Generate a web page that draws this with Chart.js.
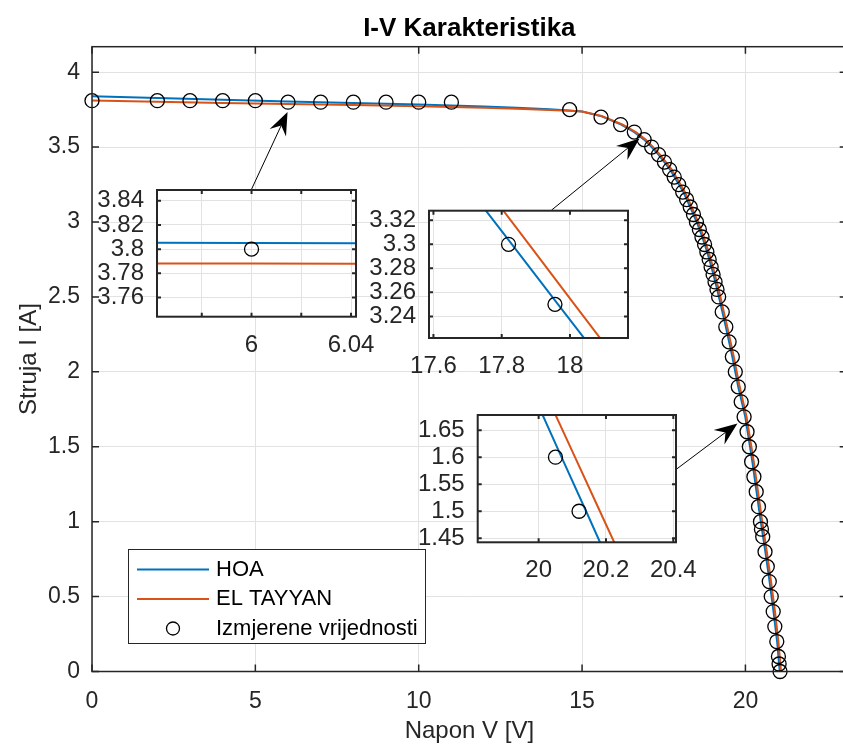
<!DOCTYPE html>
<html lang="bs">
<head>
<meta charset="UTF-8">
<title>I-V Karakteristika</title>
<script src="https://cdn.jsdelivr.net/npm/chart.js@4.4.1/dist/chart.umd.min.js"></script>
<style>
    html, body { margin: 0; padding: 0; background: #fff; overflow: hidden; }
    #grafica-wrap { position: relative; width: 843px; height: 744px; overflow: hidden; }
    #grafica-wrap canvas { position: absolute; }
</style>
</head>
<body>
<div id="grafica-wrap">
    <canvas id="iv-grafica" width="855" height="744" style="left:0;top:0"></canvas>
    <canvas id="uvecanje-1"></canvas>
    <canvas id="uvecanje-2"></canvas>
    <canvas id="uvecanje-3"></canvas>
</div>
<script>
// Izmjerene vrijednosti (V, I)
const naponMjerenja = [
    0, 2, 3, 4, 5, 6, 7, 8, 9, 10, 11,
    14.62, 15.58, 16.18, 16.60, 16.90, 17.13, 17.34, 17.52, 17.68, 17.82,
    17.956, 18.08, 18.20, 18.31, 18.41, 18.50, 18.59, 18.67, 18.75, 18.82,
    18.89, 18.95, 19.01, 19.07, 19.13, 19.18,
    19.29, 19.40, 19.50, 19.60, 19.69, 19.78, 19.87, 19.96, 20.05, 20.12,
    20.19, 20.26, 20.33, 20.40, 20.46, 20.49, 20.53,
    20.60, 20.67, 20.73, 20.79, 20.85, 20.90, 20.96, 21.01, 21.03, 21.06
];
const strujaMjerenja = [
    3.81, 3.81, 3.81, 3.81, 3.81, 3.80, 3.80, 3.80, 3.80, 3.80, 3.80,
    3.75, 3.70, 3.65, 3.60, 3.55, 3.50, 3.45, 3.40, 3.35, 3.30,
    3.25, 3.20, 3.15, 3.10, 3.05, 3.00, 2.95, 2.90, 2.85, 2.80,
    2.75, 2.70, 2.65, 2.60, 2.55, 2.50,
    2.40, 2.30, 2.20, 2.10, 2.00, 1.90, 1.80, 1.70, 1.60, 1.50,
    1.40, 1.30, 1.20, 1.10, 1.00, 0.95, 0.90,
    0.80, 0.70, 0.60, 0.50, 0.40, 0.30, 0.20, 0.10, 0.05, 0.00
];

// Model HOA
const naponHOA = [
    0, 2, 4, 6, 8, 10, 11, 12, 13, 14, 14.6, 15, 15.6,
    16.2, 16.6, 16.9, 17.13, 17.34, 17.52, 17.694, 17.83, 17.965, 18.101,
    18.31, 18.51, 18.68, 18.83, 18.96, 19.08, 19.19, 19.40, 19.60, 19.78,
    19.996, 20.068, 20.141, 20.213, 20.34, 20.47, 20.61, 20.74, 20.86, 20.97, 21.05
];
const strujaHOA = [
    3.840, 3.828, 3.816, 3.805, 3.795, 3.784, 3.778, 3.771, 3.763, 3.752, 3.745, 3.737, 3.705,
    3.65, 3.60, 3.55, 3.50, 3.45, 3.40, 3.35, 3.30, 3.25, 3.20,
    3.10, 3.00, 2.90, 2.80, 2.70, 2.60, 2.50, 2.30, 2.10, 1.90,
    1.70, 1.60, 1.50, 1.40, 1.20, 1.00, 0.80, 0.60, 0.40, 0.20, 0.00
];

// Model EL TAYYAN
const naponElTayyan = [
    0, 2, 4, 6, 8, 10, 11, 12, 13, 14, 14.6, 15, 15.6,
    16.245, 16.645, 16.945, 17.175, 17.385, 17.565, 17.746, 17.880, 18.013, 18.147,
    18.355, 18.555, 18.725, 18.875, 19.005, 19.125, 19.235, 19.445, 19.645, 19.825,
    20.034, 20.108, 20.182, 20.256, 20.385, 20.515, 20.655, 20.785, 20.905, 21.01, 21.09
];
const strujaElTayyan = [
    3.811, 3.803, 3.795, 3.788, 3.781, 3.772, 3.767, 3.762, 3.756, 3.748, 3.743, 3.737, 3.708,
    3.65, 3.60, 3.55, 3.50, 3.45, 3.40, 3.35, 3.30, 3.25, 3.20,
    3.10, 3.00, 2.90, 2.80, 2.70, 2.60, 2.50, 2.30, 2.10, 1.90,
    1.70, 1.60, 1.50, 1.40, 1.20, 1.00, 0.80, 0.60, 0.40, 0.20, 0.00
];

const nazivi = ['HOA', 'EL TAYYAN', 'Izmjerene vrijednosti'];

// Ose glavne grafike
const xTicks = [0, 5, 10, 15, 20];
const yTicks = [0, 0.5, 1, 1.5, 2, 2.5, 3, 3.5, 4];
const xOpseg = [0, 23.1];
const yOpseg = [0, 4.17];

// Uvecanja (opsezi i podjele)
const uv1X = [5.962, 6.042], uv1Y = [3.744, 3.849];
const uv1XTicks = [5.98, 6, 6.02, 6.04], uv1XOznake = [6, 6.04];
const uv1YTicks = [3.76, 3.78, 3.8, 3.82, 3.84];

const uv2X = [17.587, 18.17], uv2Y = [3.222, 3.328];
const uv2XTicks = [17.6, 17.8, 18], uv2XOznake = [17.6, 17.8, 18];
const uv2YTicks = [3.24, 3.26, 3.28, 3.3, 3.32];

const uv3X = [19.819, 20.408], uv3Y = [1.4426, 1.678];
const uv3XTicks = [20, 20.2, 20.4], uv3XOznake = [20, 20.2, 20.4];
const uv3YTicks = [1.45, 1.5, 1.55, 1.6, 1.65];

// Strelice od uvecanja do krive (u jedinicama osa)
const strelicaOd = [[4.869, 3.212], [14.064, 3.079], [17.826, 1.340]];
const strelicaDo = [[5.985, 3.735], [16.759, 3.557], [19.756, 1.656]];

(function () {
    const FONT = '"Liberation Sans", Arial, Helvetica, sans-serif';
    const SIVA = '#262626';
    const MREZA = '#e2e2e2';

    Chart.defaults.font.family = FONT;
    Chart.defaults.color = SIVA;

    const tacke = (xs, ys) => xs.map((x, i) => ({ x: x, y: ys[i] }));
    const fmt = v => String(parseFloat(Number(v).toFixed(4)));

    function skupovi(jeUvecanje) {
        return [
            {
                label: nazivi[0],
                data: tacke(naponHOA, strujaHOA),
                showLine: true,
                borderColor: '#0072BD',
                borderWidth: 2,
                pointRadius: 0,
                order: 2,
                clip: jeUvecanje ? 0 : undefined
            },
            {
                label: nazivi[1],
                data: tacke(naponElTayyan, strujaElTayyan),
                showLine: true,
                borderColor: '#D95319',
                borderWidth: 2,
                pointRadius: 0,
                order: 1,
                clip: jeUvecanje ? 0 : undefined
            },
            {
                label: nazivi[2],
                data: tacke(naponMjerenja, strujaMjerenja),
                showLine: false,
                pointRadius: 7,
                pointHoverRadius: 7,
                pointBorderWidth: 1.3,
                pointBorderColor: '#000',
                pointBackgroundColor: 'rgba(0,0,0,0)',
                order: 0,
                clip: jeUvecanje ? 0 : false
            }
        ];
    }

    // okvir, unutrasnje crtice i bijela pozadina
    const okvir = {
        id: 'okvir',
        beforeDraw(chart, args, o) {
            if (!o.pozadina) return;
            const { ctx, chartArea: a } = chart;
            ctx.save();
            ctx.fillStyle = o.pozadina;
            ctx.fillRect(a.left, a.top, a.width, a.height);
            ctx.restore();
        },
        afterDatasetsDraw(chart, args, o) {
            const { ctx, chartArea: a, scales } = chart;
            const x = scales.x, y = scales.y;
            ctx.save();
            ctx.strokeStyle = SIVA;
            ctx.lineWidth = o.debljina;
            ctx.beginPath();
            x.ticks.forEach(t => {
                const px = x.getPixelForValue(t.value);
                ctx.moveTo(px, a.bottom); ctx.lineTo(px, a.bottom - o.crtica);
                ctx.moveTo(px, a.top); ctx.lineTo(px, a.top + o.crtica);
            });
            y.ticks.forEach(t => {
                const py = y.getPixelForValue(t.value);
                ctx.moveTo(a.left, py); ctx.lineTo(a.left + o.crtica, py);
                ctx.moveTo(a.right, py); ctx.lineTo(a.right - o.crtica, py);
            });
            ctx.stroke();
            ctx.strokeRect(a.left, a.top, a.width, a.height);
            ctx.restore();
        }
    };

    const strelice = {
        id: 'strelice',
        afterDatasetsDraw(chart) {
            const { ctx, scales: { x, y } } = chart;
            ctx.save();
            ctx.strokeStyle = '#000';
            ctx.fillStyle = '#000';
            ctx.lineWidth = 1;
            strelicaOd.forEach((od, i) => {
                const x0 = x.getPixelForValue(od[0]), y0 = y.getPixelForValue(od[1]);
                const x1 = x.getPixelForValue(strelicaDo[i][0]), y1 = y.getPixelForValue(strelicaDo[i][1]);
                const ug = Math.atan2(y1 - y0, x1 - x0);
                const c = Math.cos(ug), s = Math.sin(ug);
                const L = 23, W = 9, N = 15;
                ctx.beginPath();
                ctx.moveTo(x0, y0);
                ctx.lineTo(x1 - N * c, y1 - N * s);
                ctx.stroke();
                ctx.beginPath();
                ctx.moveTo(x1, y1);
                ctx.lineTo(x1 - L * c - W * s, y1 - L * s + W * c);
                ctx.lineTo(x1 - N * c, y1 - N * s);
                ctx.lineTo(x1 - L * c + W * s, y1 - L * s - W * c);
                ctx.closePath();
                ctx.fill();
            });
            ctx.restore();
        }
    };

    const legenda = {
        id: 'legenda',
        afterDraw(chart, args, o) {
            const { ctx } = chart;
            const b = o.kutija;
            ctx.save();
            ctx.fillStyle = '#fff';
            ctx.fillRect(b.l, b.t, b.r - b.l, b.b - b.t);
            ctx.strokeStyle = SIVA;
            ctx.lineWidth = 1;
            ctx.strokeRect(b.l + 0.5, b.t + 0.5, b.r - b.l, b.b - b.t);
            ctx.font = '22px ' + FONT;
            ctx.textBaseline = 'middle';
            chart.data.datasets.forEach((ds, i) => {
                const yy = o.prviRed + i * o.razmak;
                if (ds.showLine) {
                    ctx.strokeStyle = ds.borderColor;
                    ctx.lineWidth = 2;
                    ctx.beginPath();
                    ctx.moveTo(o.linijaOd, yy);
                    ctx.lineTo(o.linijaDo, yy);
                    ctx.stroke();
                } else {
                    ctx.strokeStyle = '#000';
                    ctx.lineWidth = 1.3;
                    ctx.beginPath();
                    ctx.arc((o.linijaOd + o.linijaDo) / 2, yy, 6.5, 0, Math.PI * 2);
                    ctx.stroke();
                }
                ctx.fillStyle = '#000';
                ctx.fillText(ds.label, o.tekstX, yy);
            });
            ctx.restore();
        }
    };

    function osa(opseg, vrijednosti, oznake, velicina, razmak, dodatno) {
        return Object.assign({
            type: 'linear',
            min: opseg[0],
            max: opseg[1],
            afterBuildTicks: s => { s.ticks = vrijednosti.map(v => ({ value: v })); },
            grid: { color: MREZA, lineWidth: 1, drawTicks: false },
            border: { display: false },
            ticks: {
                color: SIVA,
                font: { size: velicina },
                padding: razmak,
                autoSkip: false,
                maxRotation: 0,
                callback: v => (oznake.includes(v) ? fmt(v) : '')
            }
        }, dodatno);
    }

    // Glavna grafika
    new Chart(document.getElementById('iv-grafica'), {
        type: 'scatter',
        data: { datasets: skupovi(false) },
        options: {
            responsive: false,
            animation: false,
            devicePixelRatio: 1,
            events: [],
            layout: { padding: { top: 0, right: 855 - 92 - 23.1 * 32.8, left: 0, bottom: 0 } },
            scales: {
                x: osa(xOpseg, xTicks, xTicks, 23, 16, {
                    afterFit: s => { s.height = 72.5; s.paddingLeft = 0; s.paddingRight = 0; },
                    title: { display: true, text: 'Napon V [V]', color: SIVA, font: { size: 24 }, padding: { top: 0, bottom: -2 } }
                }),
                y: osa(yOpseg, yTicks, yTicks, 23, 12, {
                    afterFit: s => { s.width = 92; s.paddingTop = 0; s.paddingBottom = 0; },
                    title: { display: true, text: 'Struja I [A]', color: SIVA, font: { size: 24 }, padding: { top: 15 } }
                })
            },
            plugins: {
                legend: { display: false },
                tooltip: { enabled: false },
                title: {
                    display: true,
                    text: 'I-V Karakteristika',
                    fullSize: false,
                    color: '#000',
                    font: { size: 26, weight: 'bold' },
                    padding: { top: 13, bottom: 2.5 }
                },
                okvir: { crtica: 7, debljina: 1.5 },
                legenda: {
                    kutija: { l: 128, t: 549, r: 425, b: 643 },
                    prviRed: 569.5, razmak: 29.5,
                    linijaOd: 137, linijaDo: 209, tekstX: 216
                }
            }
        },
        plugins: [okvir, strelice, legenda]
    });

    // Uvecanja
    function uvecanje(id, kutija, xOps, yOps, xT, xO, yT) {
        const L0 = Math.floor(kutija.l) - 90, T0 = Math.floor(kutija.t) - 10;
        const sirina = Math.ceil(kutija.r) + 40 - L0;
        const visina = Math.ceil(kutija.b) + 45 - T0;
        const cv = document.getElementById(id);
        cv.width = sirina;
        cv.height = visina;
        cv.style.left = L0 + 'px';
        cv.style.top = T0 + 'px';
        new Chart(cv, {
            type: 'scatter',
            data: { datasets: skupovi(true) },
            options: {
                responsive: false,
                animation: false,
                devicePixelRatio: 1,
                events: [],
                layout: { padding: { top: kutija.t - T0, right: sirina - (kutija.r - L0), left: 0, bottom: 0 } },
                scales: {
                    x: osa(xOps, xT, xO, 24, 14, {
                        afterFit: s => { s.height = visina - (kutija.b - T0); s.paddingLeft = 0; s.paddingRight = 0; }
                    }),
                    y: osa(yOps, yT, yT, 24, 13, {
                        afterFit: s => { s.width = kutija.l - L0; s.paddingTop = 0; s.paddingBottom = 0; }
                    })
                },
                plugins: {
                    legend: { display: false },
                    tooltip: { enabled: false },
                    okvir: { crtica: 4, debljina: 2, pozadina: '#fff' }
                }
            },
            plugins: [okvir]
        });
    }

    uvecanje('uvecanje-1', { l: 157, t: 190, r: 356, b: 316.7 }, uv1X, uv1Y, uv1XTicks, uv1XOznake, uv1YTicks);
    uvecanje('uvecanje-2', { l: 429, t: 210.7, r: 628, b: 338 }, uv2X, uv2Y, uv2XTicks, uv2XOznake, uv2YTicks);
    uvecanje('uvecanje-3', { l: 477.7, t: 415, r: 676, b: 542.3 }, uv3X, uv3Y, uv3XTicks, uv3XOznake, uv3YTicks);
})();
</script>
</body>
</html>
